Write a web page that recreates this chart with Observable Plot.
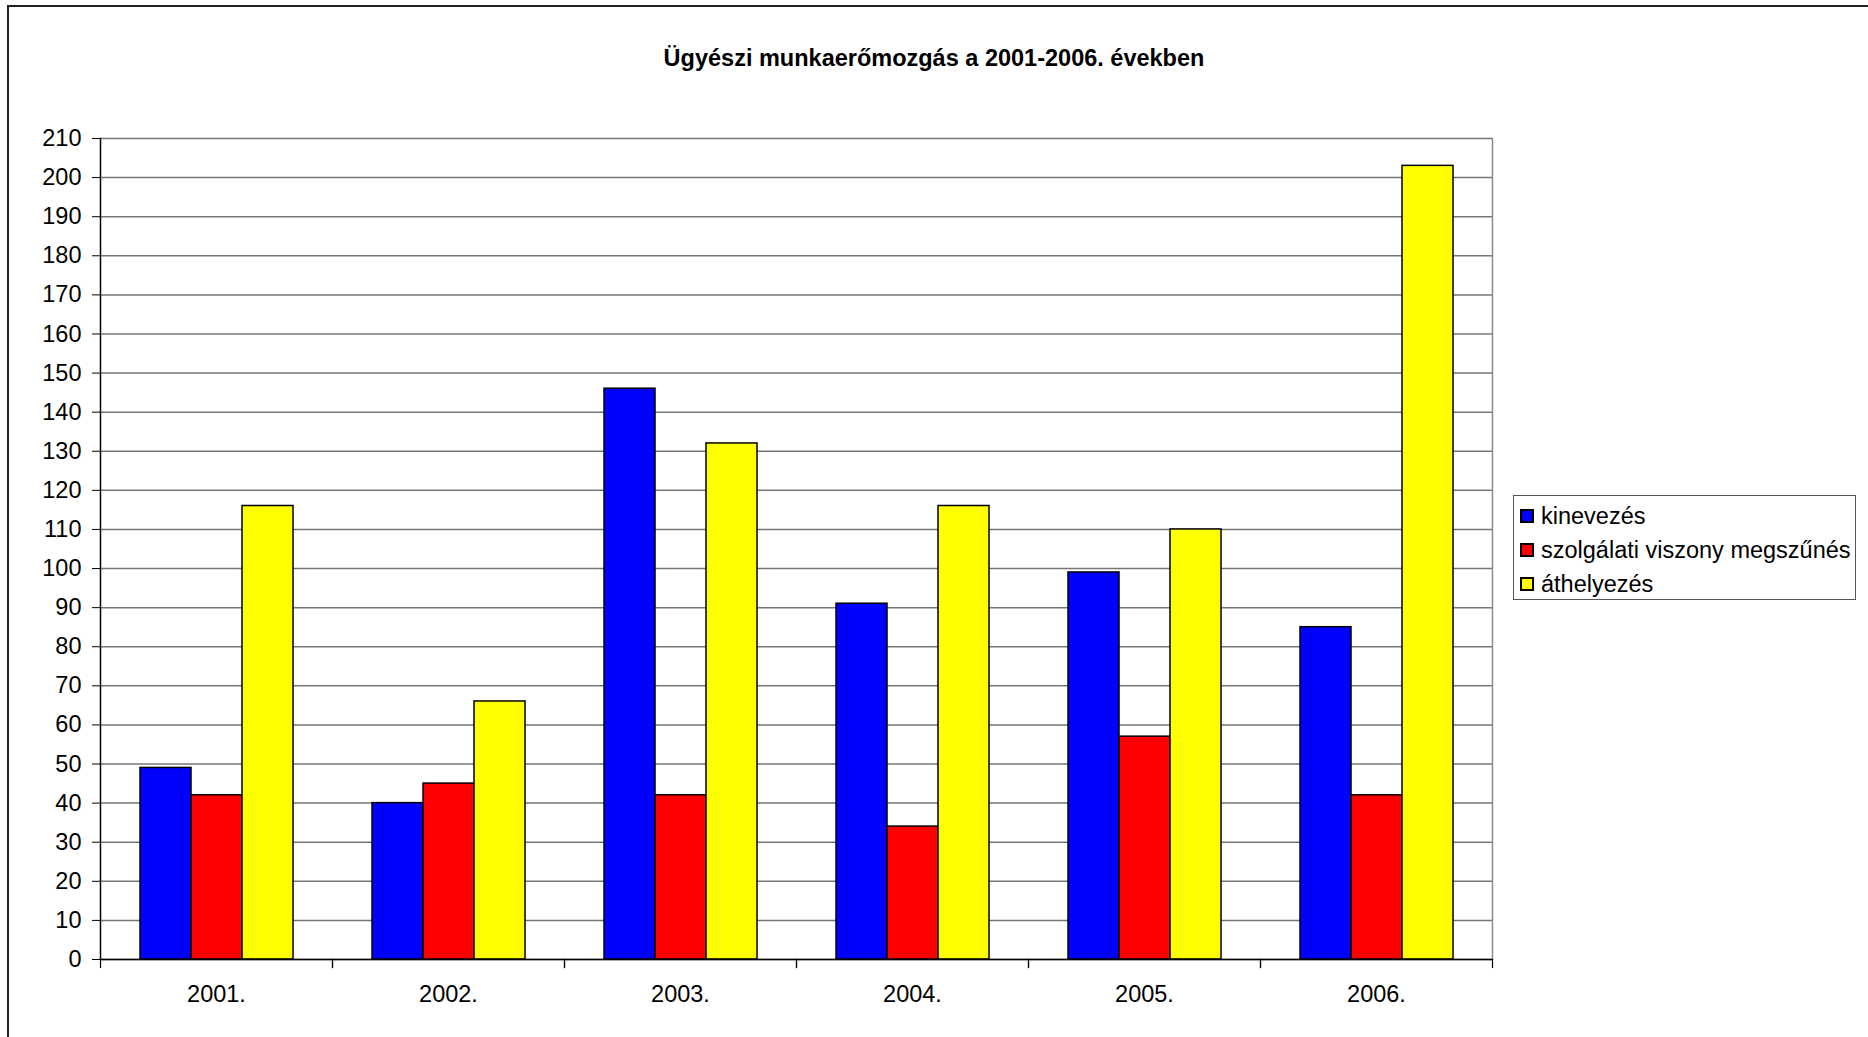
<!DOCTYPE html>
<html>
<head>
<meta charset="utf-8">
<script src="https://cdn.jsdelivr.net/npm/d3@7"></script>
<script src="https://cdn.jsdelivr.net/npm/@observablehq/plot@0.6"></script>
<style>
  html, body { margin: 0; padding: 0; background: #fff; }
  body { width: 1868px; height: 1037px; overflow: hidden; position: relative;
         font-family: Arial, "Liberation Sans", sans-serif; color: #000; }
  #border { position: absolute; left: 7px; top: 5px; width: 2000px; height: 2000px;
            border-left: 2px solid #222; border-top: 2px solid #222; }
  #chart { position: absolute; left: 0; top: 0; }
  #title { position: absolute; left: 0; top: 43px; width: 1868px; text-align: center;
           font-weight: bold; font-size: 23.5px; line-height: 30px; }
  #legend { position: absolute; left: 1513px; top: 495px; width: 343px; height: 105px;
            box-sizing: border-box; border: 1.5px solid #555; background: #fff; }
  .row { position: absolute; left: 0; height: 34px; line-height: 34px; font-size: 23.5px; white-space: nowrap; }
  .sw { position: absolute; left: 6px; top: 10px; width: 14px; height: 14px;
        box-sizing: border-box; border: 2px solid #000; }
  .lt { position: absolute; left: 27px; top: 0; }
</style>
</head>
<body>
<div id="border"></div>
<div id="chart"></div>
<div id="title"></div>
<div id="legend"></div>
<script>
const titleText = "Ügyészi munkaerőmozgás a 2001-2006. években";
const years = ["2001.", "2002.", "2003.", "2004.", "2005.", "2006."];
const series = ["kinevezés", "szolgálati viszony megszűnés", "áthelyezés"];
const kinevezes = [49, 40, 146, 91, 99, 85];
const megszunes = [42, 45, 42, 34, 57, 42];
const athelyezes = [116, 66, 132, 116, 110, 203];
const colors = ["#0000ff", "#ff0000", "#ffff00"];
const yTicks = [0, 10, 20, 30, 40, 50, 60, 70, 80, 90, 100, 110, 120, 130, 140, 150, 160, 170, 180, 190, 200, 210];

const seriesValues = [kinevezes, megszunes, athelyezes];
const data = [];
years.forEach((y, i) => {
  series.forEach((s, j) => data.push({year: y, series: s, value: seriesValues[j][i]}));
});

const W = 1868, H = 1037;
const mTop = 138, mBottom = 78, mLeft = 99, mRight = 375;
const plotH = H - mTop - mBottom;
const gridColor = "#767676";

const chart = Plot.plot({
  width: W,
  height: H,
  marginTop: mTop,
  marginBottom: mBottom,
  marginLeft: mLeft,
  marginRight: mRight,
  style: {fontFamily: "Arial, 'Liberation Sans', sans-serif", fontSize: "23.5px", color: "#000", background: "transparent"},
  fx: {domain: years, paddingInner: 0, paddingOuter: 0, axis: null, label: null},
  x: {domain: series, paddingInner: 0, paddingOuter: 0.77, axis: null},
  y: {domain: [0, 210], axis: null},
  color: {domain: series, range: colors},
  marks: [
    Plot.gridY(yTicks, {stroke: gridColor, strokeOpacity: 1, strokeWidth: 1.5}),
    Plot.frame({facet: "super", anchor: "right", stroke: "#8a8a8a", strokeWidth: 1.5}),
    Plot.barY(data, {fx: "year", x: "series", y: "value", fill: "series", stroke: "#000", strokeWidth: 1.5}),
    Plot.ruleY([0], {stroke: "#000", strokeWidth: 1.5}),
    Plot.frame({anchor: "left", insetTop: plotH, insetBottom: -8, stroke: "#000", strokeWidth: 1.2}),
    Plot.frame({anchor: "right", insetTop: plotH, insetBottom: -8, stroke: "#000", strokeWidth: 1.2}),
    Plot.frame({facet: "super", anchor: "left", stroke: "#000", strokeWidth: 1.5}),
    Plot.axisY({ticks: yTicks, tickSize: 8, tickPadding: 11, label: null, stroke: "#000", tickFormat: d => String(d)}),
    Plot.axisFx({anchor: "bottom", tickSize: 0, tickPadding: 26, label: null})
  ]
});
document.getElementById("chart").appendChild(chart);

document.getElementById("title").textContent = titleText;

const legend = document.getElementById("legend");
series.forEach((s, i) => {
  const row = document.createElement("div");
  row.className = "row";
  row.style.top = (3 + i * 34) + "px";
  const sw = document.createElement("div");
  sw.className = "sw";
  sw.style.background = colors[i];
  const lt = document.createElement("div");
  lt.className = "lt";
  lt.textContent = s;
  row.appendChild(sw);
  row.appendChild(lt);
  legend.appendChild(row);
});
</script>
</body>
</html>
